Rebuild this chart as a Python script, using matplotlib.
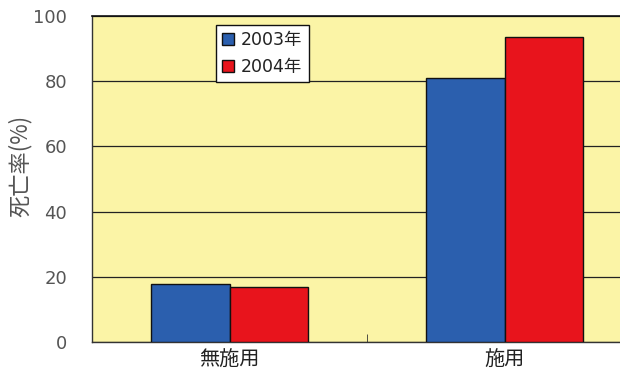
import matplotlib
matplotlib.use("Agg")
import matplotlib.pyplot as plt
import numpy as np

plt.rcParams['font.family'] = ['Noto Sans CJK JP', 'DejaVu Sans']

categories = ["無施用", "施用"]
years = ["2003年", "2004年"]
values_2003 = [17.8, 80.9]
values_2004 = [16.9, 93.6]
colors = ["#2B5FAE", "#E8141C"]

fig = plt.figure(figsize=(6.2, 3.83), dpi=100)
ax = fig.add_axes([92 / 620, 41 / 383, 550 / 620, 326 / 383])
ax.set_facecolor("#FBF4A6")

x = np.arange(len(categories))
w = 0.285
ax.bar(x - w / 2, values_2003, w, color=colors[0], edgecolor="#111111", linewidth=1.0,
       label=years[0], zorder=3)
ax.bar(x + w / 2, values_2004, w, color=colors[1], edgecolor="#111111", linewidth=1.0,
       label=years[1], zorder=3)

ax.set_xlim(-0.5, 1.5)
ax.set_ylim(0, 100)
ax.set_yticks([0, 20, 40, 60, 80, 100])
ax.grid(axis="y", color="#222222", linewidth=0.9, zorder=1)
ax.set_xticks(x)
ax.set_xticklabels(categories, fontsize=14.5, color="#222222")
ax.set_xticks([-0.5, 0.5, 1.5], minor=True)
ax.tick_params(axis="x", which="major", length=0, pad=6)
ax.tick_params(axis="x", which="minor", direction="in", length=6, color="#333333")
ax.tick_params(axis="y", length=0, pad=18)
for lbl in ax.get_yticklabels():
    lbl.set_family(["DejaVu Sans"])
    lbl.set_fontsize(13)
    lbl.set_color("#555555")

for s in ["left", "bottom"]:
    ax.spines[s].set_linestyle((0, (1, 1)))
    ax.spines[s].set_color("#333333")
    ax.spines[s].set_linewidth(1.0)
ax.spines["top"].set_color("#111111")
ax.spines["top"].set_linewidth(1.2)
ax.spines["right"].set_visible(False)

ax.set_ylabel("死亡率(%)", fontsize=16, color="#555555")
ax.yaxis.set_label_coords(-0.11, 0.54)

leg = ax.legend(loc="upper left", bbox_to_anchor=(124 / 550, 0.972),
                prop={"family": ["DejaVu Sans", "Noto Sans CJK JP"], "size": 12.5},
                frameon=True, fancybox=False, edgecolor="#111111", framealpha=1,
                handlelength=0.7, handleheight=0.7, handletextpad=0.4,
                borderpad=0.35, labelspacing=0.5, borderaxespad=0)
leg.get_frame().set_linewidth(1.0)
leg.set_zorder(5)
for t in leg.get_texts():
    t.set_color("#222222")

fig.savefig("out.png", dpi=100)
